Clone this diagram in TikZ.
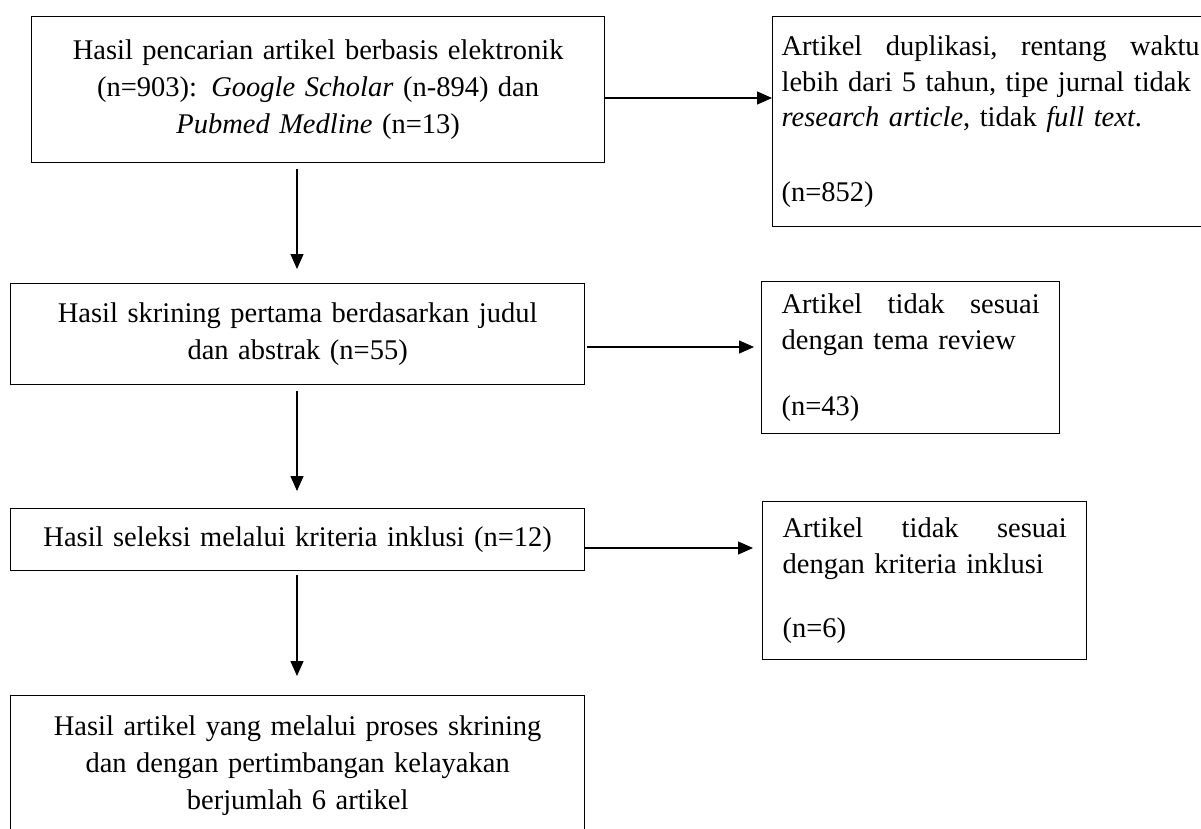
\documentclass[tikz,border=0pt]{standalone}
\usepackage{fontspec}
\setmainfont{Liberation Serif}
\usetikzlibrary{arrows.meta}
\begin{document}
\begin{tikzpicture}[x=1pt,y=-1pt,
  box/.style={draw, line width=1.3pt, anchor=north west, inner ysep=0pt},
  lbox/.style={box, inner xsep=5pt, text width=564pt, align=center,
    font=\fontsize{28.5}{37}\selectfont},
  rbox/.style={box, inner xsep=20pt, align=left,
    font=\fontsize{28.5}{35.5}\selectfont},
  arr/.style={line width=1.3pt, -{Triangle[length=15pt,width=13pt]}}]
\useasboundingbox (0,0) rectangle (1201,828);
\clip (0,0) rectangle (1201,828);
\fill[white] (0,0) rectangle (1201,828);

\node[lbox, text width=563pt, minimum height=146pt] (b1) at (31,16)
  {Hasil pencarian artikel berbasis elektronik\\(n=903): \textit{Google Scholar} (n-894) dan\\\textit{Pubmed Medline} (n=13)};
\node[rbox, inner xsep=9pt, text width=418pt, minimum height=210pt] (b2) at (772,16)
  {Artikel\hfill duplikasi,\hfill rentang\hfill waktu\\lebih dari 5 tahun, tipe jurnal tidak\\\textit{research article}, tidak \textit{full text}.\\[39.5pt](n=852)};

\node[lbox, minimum height=101pt] (b3) at (10,283)
  {Hasil skrining pertama berdasarkan judul\\dan abstrak (n=55)};
\node[rbox, text width=258pt, minimum height=152pt] (b4) at (761,281)
  {Artikel\hfill tidak\hfill sesuai\\dengan tema review\\[31pt](n=43)};

\node[lbox, minimum height=62pt] (b5) at (10,508)
  {Hasil seleksi melalui kriteria inklusi (n=12)};
\node[rbox, text width=284pt, minimum height=158pt] (b6) at (762,501)
  {Artikel\hfill tidak\hfill sesuai\\dengan kriteria inklusi\\[29pt](n=6)};

\node[lbox, minimum height=140pt] (b7) at (10,695)
  {Hasil artikel yang melalui proses skrining\\dan dengan pertimbangan kelayakan\\berjumlah 6 artikel};

\coordinate (h1) at (0,98);
\coordinate (h2) at (0,347);
\coordinate (h3) at (0,548);
\coordinate (vx) at (297,0);

\draw[arr] (b1.east |- h1) -- (b2.west |- h1);
\draw[arr, shorten <=2pt, shorten >=7pt] (b3.east |- h2) -- (b4.west |- h2);
\draw[arr, shorten >=9pt] (b5.east |- h3) -- (b6.west |- h3);
\draw[arr, shorten <=6pt, shorten >=14pt] (vx |- b1.south) -- (vx |- b3.north);
\draw[arr, shorten <=6pt, shorten >=17pt] (vx |- b3.south) -- (vx |- b5.north);
\draw[arr, shorten <=4pt, shorten >=19pt] (vx |- b5.south) -- (vx |- b7.north);
\end{tikzpicture}
\end{document}
